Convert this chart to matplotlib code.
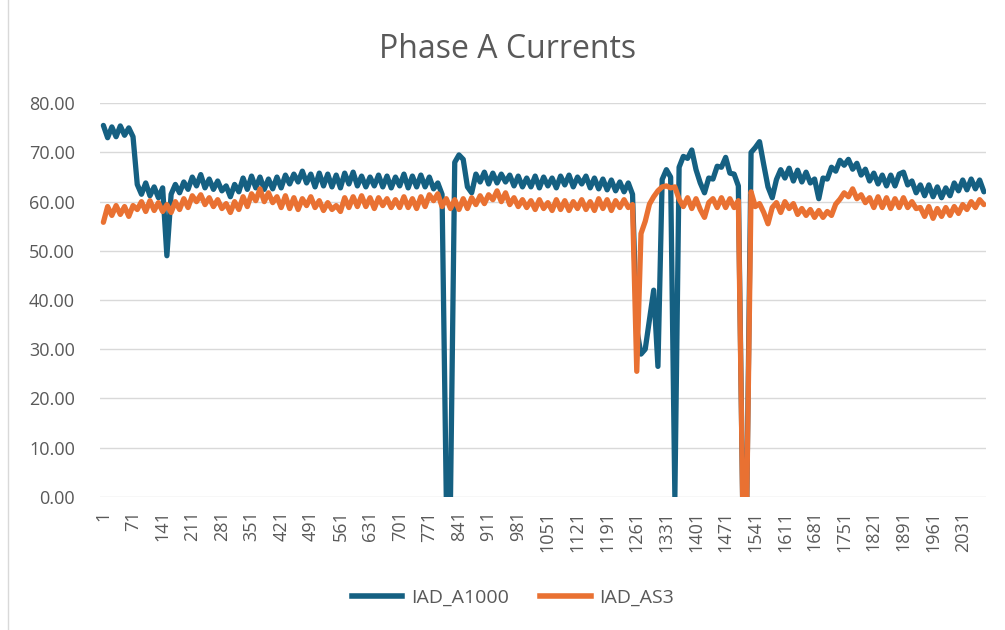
import numpy as np
import matplotlib
matplotlib.use("Agg")
import matplotlib.pyplot as plt
from matplotlib.lines import Line2D

plt.rcParams['font.family'] = ['Open Sans', 'DejaVu Sans']

# category index of each sample (every 10th record)
categories = np.arange(1, 2082, 10)

iad_a1000 = [
    75.5, 73.0, 75.2, 73.2, 75.4, 73.5, 75.0, 73.2,
    63.5, 61.5, 63.8, 61.2, 63.0, 60.8, 62.8,
    49.0,
    61.5, 63.5, 61.8, 64.0, 62.5,
    65.0, 63.2, 65.5, 62.8, 64.6, 62.5, 64.2, 62.2,
    63.2, 61.0, 63.5, 62.0, 64.8, 62.5,
    65.2, 62.8, 65.0, 62.5, 64.6, 62.6,
    65.0, 62.8, 65.4, 63.6, 65.6, 64.0, 66.2, 63.8,
    65.6, 63.0, 65.8, 63.2, 65.6, 63.0, 65.4, 62.8, 65.8, 63.6, 66.0, 63.2, 65.2, 63.0, 65.0,
    63.2, 65.4, 63.0, 65.2, 62.8, 65.0, 63.2, 65.6, 62.8, 65.2, 63.0, 65.4, 63.0, 65.0, 62.6, 63.8,
    61.5, 0.0, 0.0,
    68.0, 69.5, 68.6, 63.0, 61.8,
    65.6, 64.0, 66.0, 63.6, 65.8, 63.8, 65.6, 64.0, 65.4, 63.2, 65.2, 63.0, 64.8,
    63.0, 65.2, 62.8, 65.0, 63.2, 64.8, 62.8, 65.2, 63.4, 65.4, 63.0, 65.0,
    63.6, 65.2, 62.8, 64.8, 62.6, 64.6, 62.4, 64.4, 62.2, 64.0, 62.0, 63.8,
    61.5, 34.0, 29.0, 30.0, 36.0, 42.0, 26.5,
    64.5, 66.5, 65.0, 0.0, 67.0, 69.2, 68.8, 70.5, 66.5, 63.8, 61.8, 64.8, 64.6,
    67.2, 67.0, 69.0, 65.8, 65.6, 63.2, 0.0, 0.0,
    70.0, 71.0, 72.2, 67.5, 63.0, 60.8, 64.5,
    66.5, 64.8, 66.8, 64.2, 66.4, 64.0, 66.0, 63.8, 64.6, 60.6,
    64.8, 64.6, 67.0, 66.2, 68.4, 67.4,
    68.6, 66.6, 67.8, 65.4, 66.6, 64.2, 65.8, 63.6, 65.4,
    63.2, 65.4, 63.2, 65.6, 66.0, 63.4, 64.2,
    61.8, 63.4, 61.2, 63.4, 61.0, 63.0, 60.8, 62.8, 61.2,
    63.8, 62.2, 64.4, 62.4, 64.6, 62.6, 64.4, 62.0,
]

iad_as3 = [
    55.8, 59.0, 57.2, 59.2, 57.4, 59.0, 57.0, 59.2,
    58.4, 60.0, 58.0, 60.2, 58.2, 59.8, 58.0,
    59.4, 57.8, 60.0, 58.4, 60.6, 58.8, 61.2, 60.0,
    61.4, 59.4, 60.8, 59.0, 60.4, 58.6,
    59.6, 57.8, 60.0, 58.4, 61.0, 59.0,
    61.6, 60.2, 62.6, 60.0, 61.8, 59.8,
    61.0, 58.8, 61.2, 58.6, 60.8, 58.4, 60.6, 59.2, 61.0, 58.8, 60.2, 58.2, 59.8, 58.4, 59.2, 58.0,
    60.8, 58.8, 61.0, 59.0, 61.2, 59.0, 60.8, 58.6, 60.8, 59.2, 60.6, 58.8,
    60.4, 58.8, 61.0, 58.8, 60.6, 58.6, 61.0, 59.0, 61.4, 60.2, 61.6,
    59.0, 60.6, 58.6, 60.4, 58.4, 60.6, 58.6, 60.8, 59.4, 61.2, 59.6,
    61.4, 60.4, 62.2, 60.0, 61.8, 59.4, 60.8, 59.0, 60.4, 58.8,
    60.2, 58.4, 60.4, 58.6, 59.8, 58.2, 60.4, 58.4, 60.2, 58.2, 60.0, 58.6,
    60.4, 58.4, 60.0, 58.2, 60.6, 58.6, 60.4, 58.2, 60.2, 58.8, 60.4, 58.8,
    59.4, 25.5, 53.5, 56.0, 59.5, 61.0, 62.2, 63.0, 63.2, 62.8, 63.0, 60.5, 59.0,
    60.8, 58.6, 60.6, 58.4, 56.8, 59.8, 60.6, 58.8, 60.8, 58.8, 60.6, 58.8, 60.2,
    0.0, 0.0, 62.0, 59.0,
    59.6, 57.8, 55.5, 58.8, 59.8, 57.8, 60.0, 58.6, 59.6, 57.4, 58.6, 57.2, 58.4, 56.8, 58.2, 56.8,
    58.0, 57.2, 59.5, 60.5, 61.8, 61.0,
    62.6, 60.6, 61.4, 59.8,
    60.8, 58.8, 61.0, 58.8, 60.8, 58.6, 60.6, 58.8, 60.8, 58.8, 60.0, 58.6,
    58.8, 57.0, 59.0, 56.6, 58.6, 57.0, 58.8, 57.2,
    59.0, 57.6, 59.4, 58.4, 60.0, 58.8, 60.4, 59.4,
]

series_names = ["IAD_A1000", "IAD_AS3"]
series_colors = ["#156082", "#E97132"]
x_tick_labels = list(range(1, 2032, 70))
y_ticks = list(range(0, 81, 10))

W, H = 1005, 630
fig = plt.figure(figsize=(W / 100, H / 100), dpi=100)
fig.patch.set_facecolor("white")

ax = fig.add_axes([100 / W, 1 - 496.7 / H, 886 / W, 393.4 / H])
for vals, name, col in zip([iad_a1000, iad_as3], series_names, series_colors):
    ax.plot(categories, vals, color=col, lw=3.8, solid_joinstyle="round",
            solid_capstyle="round", label=name)

ax.set_xlim(-7, 2086)
ax.set_ylim(0, 80)
ax.set_yticks(y_ticks)
ax.set_yticklabels([f"{v:.2f}" for v in y_ticks])
ax.set_xticks(x_tick_labels)
ax.set_xticklabels([str(v) for v in x_tick_labels], rotation=90)
ax.tick_params(axis="both", length=0, labelsize=13, colors="#595959")
ax.tick_params(axis="y", pad=18)
ax.tick_params(axis="x", pad=10)
ax.grid(axis="y", color="#D9D9D9", lw=1)
ax.set_axisbelow(True)
for s in ax.spines.values():
    s.set_visible(False)

fig.text(0.505, 1 - 50 / H, "Phase A Currents", ha="center", va="center",
         fontsize=23, color="#595959")

handles = [Line2D([0], [0], color=c, lw=4) for c in series_colors]
fig.legend(handles, series_names, loc="center", bbox_to_anchor=(513 / W, 1 - 598 / H),
           ncol=2, frameon=False, fontsize=14, labelcolor="#595959",
           handlelength=2.6, handletextpad=0.45, columnspacing=1.6)

fig.add_artist(Line2D([8 / W, 8 / W], [0, 1], color="#D9D9D9", lw=1))

fig.savefig("out.png", dpi=100, facecolor="white")
